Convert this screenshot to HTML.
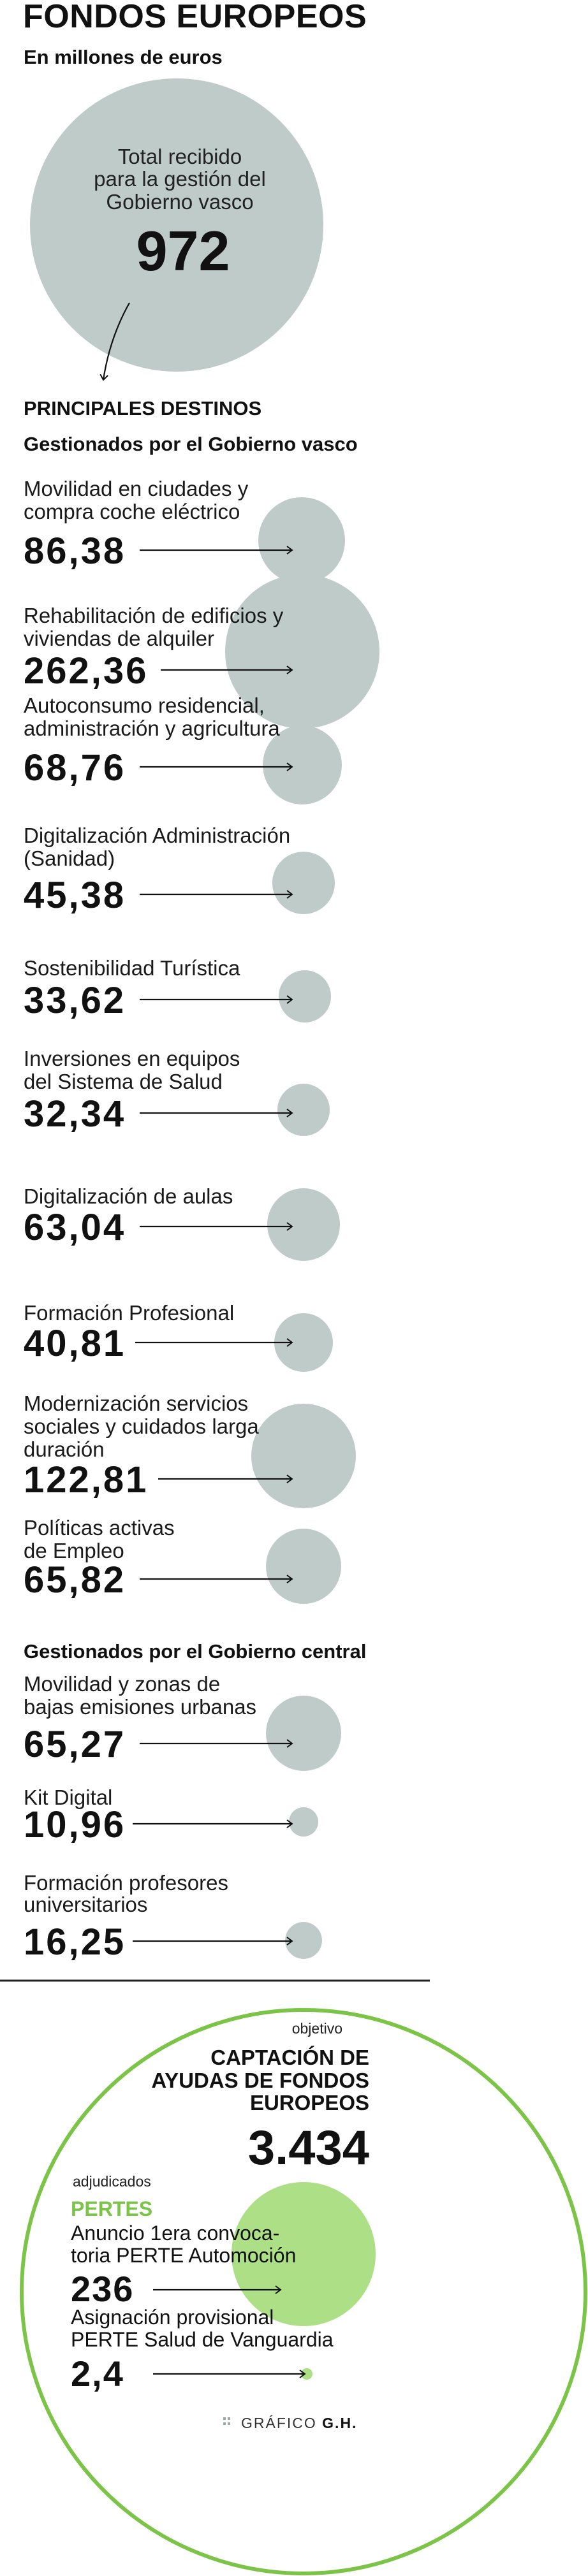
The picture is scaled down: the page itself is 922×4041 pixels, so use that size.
<!DOCTYPE html>
<html><head><meta charset="utf-8"><style>
html,body{margin:0;padding:0;background:#fff;}
svg{display:block;font-family:"Liberation Sans",sans-serif;}
.l{font-size:33px;fill:#1a1a1a;}
.v{font-size:58px;font-weight:bold;fill:#111;letter-spacing:3px;}
.h{font-size:31px;font-weight:bold;fill:#111;}
.c{fill:#bfcbc9;}
.a{stroke:#111;stroke-width:2.2;fill:none;}
</style></head><body>
<svg width="922" height="4041" viewBox="0 0 922 4041" xmlns="http://www.w3.org/2000/svg">
<defs><marker id="ar" markerWidth="14" markerHeight="14" refX="11" refY="7" orient="auto" markerUnits="userSpaceOnUse"><path d="M3,1 L11,7 L3,13" fill="none" stroke="#111" stroke-width="2"/></marker></defs>
<text x="36" y="43" font-size="52" font-weight="bold" fill="#111" letter-spacing="0.5">FONDOS EUROPEOS</text>
<text x="37" y="100" class="h">En millones de euros</text>
<circle cx="277" cy="353" r="230" class="c"/>
<text x="282" y="257" font-size="33" text-anchor="middle" fill="#222">Total recibido</text>
<text x="282" y="292" font-size="33" text-anchor="middle" fill="#222">para la gestión del</text>
<text x="282" y="328" font-size="33" text-anchor="middle" fill="#222">Gobierno vasco</text>
<text x="287" y="424" font-size="88" font-weight="bold" text-anchor="middle" fill="#111">972</text>
<path d="M203,475 Q172,530 162,596" class="a" marker-end="url(#ar)"/>
<text x="37" y="651" class="h">PRINCIPALES DESTINOS</text>
<text x="37" y="707" class="h">Gestionados por el Gobierno vasco</text>

<circle cx="473" cy="848" r="68" class="c"/>
<circle cx="474" cy="1022" r="121" class="c"/>
<circle cx="474" cy="1200" r="62" class="c"/>
<circle cx="476" cy="1385" r="49" class="c"/>
<circle cx="478" cy="1563" r="41" class="c"/>
<circle cx="476" cy="1741" r="41" class="c"/>
<circle cx="476" cy="1921" r="57" class="c"/>
<circle cx="476" cy="2106" r="46" class="c"/>
<circle cx="476" cy="2284" r="82" class="c"/>
<circle cx="476" cy="2457" r="59" class="c"/>
<circle cx="476" cy="2719" r="59" class="c"/>
<circle cx="476" cy="2858" r="23" class="c"/>
<circle cx="476" cy="3044" r="29" class="c"/>

<g class="l">
<text x="37" y="778">Movilidad en ciudades y</text><text x="37" y="814">compra coche eléctrico</text>
<text x="37" y="977">Rehabilitación de edificios y</text><text x="37" y="1013">viviendas de alquiler</text>
<text x="37" y="1118">Autoconsumo residencial,</text><text x="37" y="1154">administración y agricultura</text>
<text x="37" y="1322">Digitalización Administración</text><text x="37" y="1358">(Sanidad)</text>
<text x="37" y="1530">Sostenibilidad Turística</text>
<text x="37" y="1672">Inversiones en equipos</text><text x="37" y="1708">del Sistema de Salud</text>
<text x="37" y="1888">Digitalización de aulas</text>
<text x="37" y="2071">Formación Profesional</text>
<text x="37" y="2213">Modernización servicios</text><text x="37" y="2249">sociales y cuidados larga</text><text x="37" y="2285">duración</text>
<text x="37" y="2408">Políticas activas</text><text x="37" y="2444">de Empleo</text>
<text x="37" y="2653">Movilidad y zonas de</text><text x="37" y="2689">bajas emisiones urbanas</text>
<text x="37" y="2831">Kit Digital</text>
<text x="37" y="2965">Formación profesores</text><text x="37" y="2999">universitarios</text>
</g>
<text x="37" y="2601" class="h">Gestionados por el Gobierno central</text>

<g class="v">
<text x="37" y="884">86,38</text>
<text x="37" y="1072">262,36</text>
<text x="37" y="1224">68,76</text>
<text x="37" y="1424">45,38</text>
<text x="37" y="1589">33,62</text>
<text x="37" y="1767">32,34</text>
<text x="37" y="1945">63,04</text>
<text x="37" y="2127">40,81</text>
<text x="37" y="2341">122,81</text>
<text x="37" y="2498">65,82</text>
<text x="37" y="2756">65,27</text>
<text x="37" y="2882">10,96</text>
<text x="37" y="3066">16,25</text>
</g>
<g class="a">
<line x1="219" y1="863" x2="458" y2="863" marker-end="url(#ar)"/>
<line x1="252" y1="1051" x2="458" y2="1051" marker-end="url(#ar)"/>
<line x1="219" y1="1203" x2="458" y2="1203" marker-end="url(#ar)"/>
<line x1="219" y1="1403" x2="458" y2="1403" marker-end="url(#ar)"/>
<line x1="219" y1="1568" x2="458" y2="1568" marker-end="url(#ar)"/>
<line x1="219" y1="1746" x2="458" y2="1746" marker-end="url(#ar)"/>
<line x1="219" y1="1924" x2="458" y2="1924" marker-end="url(#ar)"/>
<line x1="212" y1="2106" x2="458" y2="2106" marker-end="url(#ar)"/>
<line x1="248" y1="2320" x2="458" y2="2320" marker-end="url(#ar)"/>
<line x1="219" y1="2477" x2="458" y2="2477" marker-end="url(#ar)"/>
<line x1="219" y1="2735" x2="458" y2="2735" marker-end="url(#ar)"/>
<line x1="208" y1="2861" x2="458" y2="2861" marker-end="url(#ar)"/>
<line x1="208" y1="3045" x2="458" y2="3045" marker-end="url(#ar)"/>
</g>
<line x1="0" y1="3107" x2="674" y2="3107" stroke="#222" stroke-width="3"/>

<circle cx="476" cy="3595" r="442" fill="none" stroke="#7cc447" stroke-width="6"/>
<circle cx="476" cy="3536" r="113" fill="#addf87"/>
<text x="537" y="3190" font-size="23" text-anchor="end" fill="#222">objetivo</text>
<g font-size="33" font-weight="bold" fill="#111" text-anchor="end">
<text x="579" y="3239">CAPTACIÓN DE</text>
<text x="579" y="3275">AYUDAS DE FONDOS</text>
<text x="579" y="3310">EUROPEOS</text>
</g>
<text x="579" y="3395" font-size="76" font-weight="bold" fill="#111" text-anchor="end">3.434</text>
<text x="114" y="3430" font-size="23" fill="#222">adjudicados</text>
<text x="111" y="3476" font-size="32" font-weight="bold" fill="#7cc447">PERTES</text>
<text x="111" y="3514" font-size="32" fill="#111">Anuncio 1era convoca-</text>
<text x="111" y="3549" font-size="32" fill="#111">toria PERTE Automoción</text>
<text x="111" y="3610" font-size="56" font-weight="bold" fill="#111" letter-spacing="2">236</text>
<line x1="240" y1="3592" x2="440" y2="3592" class="a" marker-end="url(#ar)"/>
<text x="111" y="3646" font-size="32" fill="#111">Asignación provisional</text>
<text x="111" y="3681" font-size="32" fill="#111">PERTE Salud de Vanguardia</text>
<circle cx="481" cy="3724" r="9" fill="#addf87"/>
<text x="111" y="3743" font-size="56" font-weight="bold" fill="#111" letter-spacing="2">2,4</text>
<line x1="240" y1="3724" x2="478" y2="3724" class="a" marker-end="url(#ar)"/>
<g fill="#9aa8a6"><rect x="350" y="3792" width="4" height="4"/><rect x="357" y="3792" width="4" height="4"/><rect x="350" y="3800" width="4" height="4"/><rect x="357" y="3800" width="4" height="4"/></g>
<text x="378" y="3809" font-size="23" fill="#333" letter-spacing="2">GRÁFICO <tspan font-weight="bold" fill="#111">G.H.</tspan></text>
</svg>
</body></html>
